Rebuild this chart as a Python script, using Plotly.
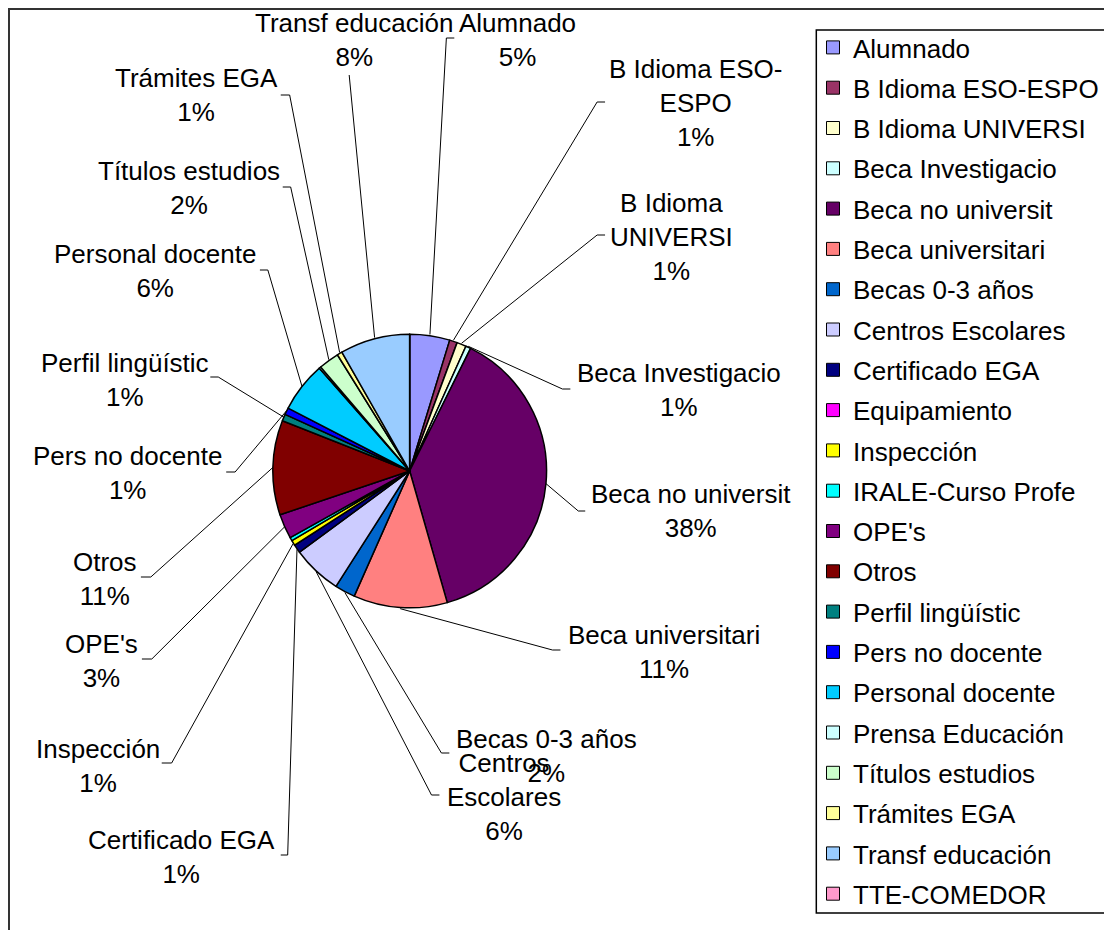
import math
import plotly.graph_objects as go

# The page adds an 8px body margin, so the figure is drawn 16px smaller and
# every layout position below is given in page pixels and shifted by OFF.
PAGE_W, PAGE_H = 1112, 938
OFF = 8
W, H = PAGE_W - 2 * OFF, PAGE_H - 2 * OFF

# ---------------- data ----------------
categories = ["Alumnado", "B Idioma ESO-ESPO", "B Idioma UNIVERSI", "Beca Investigacio",
              "Beca no universit", "Beca universitari", "Becas 0-3 años", "Centros Escolares",
              "Certificado EGA", "Equipamiento", "Inspección", "IRALE-Curso Profe", "OPE's",
              "Otros", "Perfil lingüístic", "Pers no docente", "Personal docente",
              "Prensa Educación", "Títulos estudios", "Trámites EGA", "Transf educación",
              "TTE-COMEDOR"]
values = [4.7, 0.9, 1.1, 0.6, 38.0, 11.0, 2.4, 5.8, 1.0, 0.0, 0.6, 0.4, 2.9,
          11.1, 0.8, 0.8, 5.9, 0.2, 2.4, 0.6, 8.2, 0.0]
colors = ["#9999FF", "#993366", "#FFFFCC", "#CCFFFF", "#660066", "#FF8080", "#0066CC",
          "#CCCCFF", "#000080", "#FF00FF", "#FFFF00", "#00FFFF", "#800080", "#800000",
          "#008080", "#0000FF", "#00CCFF", "#CCFFFF", "#CCFFCC", "#FFFF99", "#99CCFF",
          "#FF99CC"]

# ---------------- layout of the pie and labels (page pixels) ----------------
PIE = dict(cx=413, cy=471, r=138)
FONT = "Liberation Sans, Arial, sans-serif"
FS = 26

# name: (text center x, text center y, elbow point, tick end, wrapped text)
LABELS = {
    "Transf educación": (357, 40, (352, 75), None, "Transf educación"),
    "Alumnado": (522, 40, (450, 38), (458, 38), "Alumnado"),
    "B Idioma ESO-ESPO": (701, 103, (602, 102), (610, 102), "B Idioma ESO-<br>ESPO"),
    "B Idioma UNIVERSI": (677, 237, (602, 235), (610, 235), "B Idioma<br>UNIVERSI"),
    "Beca Investigacio": (685, 390, (567, 389), (575, 389), "Beca Investigacio"),
    "Beca no universit": (697, 511, (583, 511), (590, 511), "Beca no universit"),
    "Beca universitari": (669, 652, (557, 650), (565, 650), "Beca universitari"),
    "Becas 0-3 años": (551, 756, (445, 753), (453, 753), "Becas 0-3 años"),
    "Centros Escolares": (508, 797, (435, 795), (443, 795), "Centros<br>Escolares"),
    "Certificado EGA": (183, 857, (290, 855), (283, 855), "Certificado EGA"),
    "Inspección": (99, 766, (173, 763), (163, 763), "Inspección"),
    "OPE's": (102, 661, (153, 659), (143, 659), "OPE's"),
    "Otros": (106, 579, (152, 577), (142, 577), "Otros"),
    "Perfil lingüístic": (126, 380, (220, 377), (212, 377), "Perfil lingüístic"),
    "Pers no docente": (128, 473, (237, 472), (228, 472), "Pers no docente"),
    "Personal docente": (156, 271, (270, 270), (262, 270), "Personal docente"),
    "Títulos estudios": (191, 188, (293, 187), (285, 187), "Títulos estudios"),
    "Trámites EGA": (198, 95, (292, 95), (283, 95), "Trámites EGA"),
}


def px(x):
    return (x - OFF) / W


def py(y):
    return 1 - (y - OFF) / H


fig = go.Figure()

fig.add_trace(go.Pie(
    labels=categories, values=values, sort=False, direction="clockwise", rotation=0,
    marker=dict(colors=colors, line=dict(color="black", width=1.5)),
    textinfo="none", hoverinfo="label+percent", showlegend=False,
    domain=dict(x=[px(PIE["cx"] - PIE["r"]), px(PIE["cx"] + PIE["r"])],
                y=[py(PIE["cy"] + PIE["r"]), py(PIE["cy"] - PIE["r"])]),
))

# legend entries (one group each so the row spacing can be set)
for i, (name, col) in enumerate(zip(categories, colors)):
    fig.add_trace(go.Scatter(
        x=[None], y=[None], mode="markers", name=name, legendgroup=f"g{i}",
        marker=dict(symbol="square", size=13, color=col, line=dict(color="black", width=1)),
        showlegend=True, hoverinfo="skip",
    ))

total = sum(values)
shapes = []
annotations = []
cum = 0.0
for name, v in zip(categories, values):
    mid = (cum + v / 2) / total
    cum += v
    if name not in LABELS:
        continue
    tx, ty, elbow, tick, txt = LABELS[name]
    ang = 2 * math.pi * mid
    ex = PIE["cx"] + PIE["r"] * math.sin(ang)
    ey = PIE["cy"] - PIE["r"] * math.cos(ang)
    path = f"M {px(ex)},{py(ey)} L {px(elbow[0])},{py(elbow[1])}"
    if tick is not None:
        path += f" L {px(tick[0])},{py(tick[1])}"
    shapes.append(dict(type="path", xref="paper", yref="paper", path=path,
                       line=dict(color="black", width=1)))
    pct = int(v / total * 100 + 0.5)
    annotations.append(dict(
        x=px(tx), y=py(ty), xref="paper", yref="paper", xanchor="center", yanchor="middle",
        text=f"{txt}<br>{pct}%", showarrow=False, align="center",
        font=dict(family=FONT, size=FS, color="black"),
    ))

# outer chart frame (left and top edges visible) and legend frame (right edge off-page)
shapes.append(dict(type="path", xref="paper", yref="paper",
                   path=f"M {px(9)},{py(960)} L {px(9)},{py(9)} L {px(1140)},{py(9)}",
                   line=dict(color="#333333", width=2), layer="below"))
shapes.append(dict(type="path", xref="paper", yref="paper",
                   path=(f"M {px(1140)},{py(30)} L {px(823)},{py(30)} "
                         f"L {px(823)},{py(913)} L {px(1140)},{py(913)}"),
                   line=dict(color="black", width=1.5), layer="below"))

fig.update_layout(
    width=W, height=H, margin=dict(l=0, r=0, t=0, b=0),
    paper_bgcolor="white", plot_bgcolor="white",
    xaxis=dict(visible=False), yaxis=dict(visible=False),
    shapes=shapes, annotations=annotations,
    showlegend=True,
    legend=dict(x=px(820), y=py(24), xanchor="left", yanchor="top",
                traceorder="grouped", tracegroupgap=3.5, itemsizing="trace",
                font=dict(family=FONT, size=FS, color="black"),
                bgcolor="rgba(0,0,0,0)", borderwidth=0),
)

fig.write_html("out.html")
